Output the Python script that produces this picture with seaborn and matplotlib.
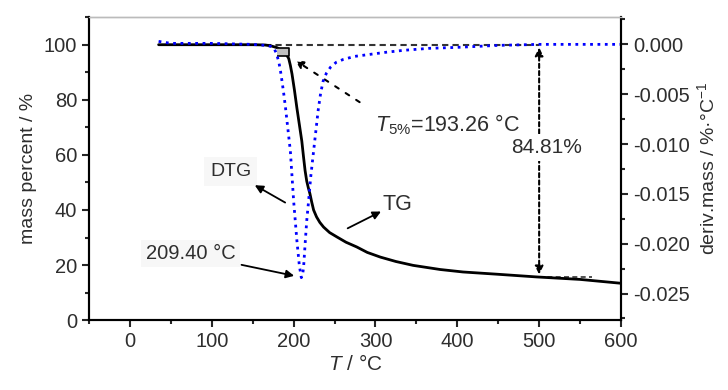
import numpy as np
import pandas as pd
import seaborn as sns
import matplotlib.pyplot as plt
from matplotlib.ticker import MultipleLocator, FormatStrFormatter

# TG curve (mass percent vs temperature)
tg_temp = [35, 100, 150, 165, 172, 180, 187, 191, 194, 196, 198, 201, 204, 207, 210,
           212, 214, 216, 218, 220, 222, 224.4, 228, 232, 236.6, 244, 253, 264, 277,
           290, 306, 325, 346, 379, 407, 448, 497, 550, 600]
tg_mass = [100, 100, 100, 99.9, 99.6, 98.9, 97.4, 96.5, 95.0, 92.5, 89.4, 83.5, 77,
           71, 65, 59.5, 54.3, 50.5, 48, 45.8, 43, 40, 37.5, 35.5, 33.8, 31.8, 30.2,
           28.3, 26.6, 24.6, 22.9, 21.3, 19.9, 18.4, 17.5, 16.7, 15.7, 14.8, 13.4]

# DTG curve (derivative mass vs temperature)
dtg_temp = [35, 50, 100, 150, 165, 172, 176, 179, 182, 184, 186, 188, 190, 193, 196,
            200, 204, 207, 209.4, 211, 212.2, 214.3, 216, 218.3, 221, 224.4, 227, 230,
            233, 236, 240, 245, 252, 261, 275, 293.5, 312, 334, 365, 400, 450, 500, 600]
dtg_val = [0.0003, 0.0001, 0.0001, 0.0, -0.0001, -0.0002, -0.0004, -0.0009, -0.0018,
           -0.0027, -0.0038, -0.0050, -0.0063, -0.0085, -0.0107, -0.0157, -0.0197,
           -0.0222, -0.0234, -0.0231, -0.0223, -0.0197, -0.0177, -0.0157, -0.0132,
           -0.0107, -0.0088, -0.0066, -0.0049, -0.0037, -0.0029, -0.0023, -0.0018,
           -0.0015, -0.0012, -0.0010, -0.0008, -0.0006, -0.0004, -0.0003, -0.0001,
           0.0, 0.0]

# annotation values
t5_x, t5_y = 187, 97.3          # T5% marker
onset_x = 165                   # start of 100 % baseline
loss_x = 500                    # temperature of mass loss reading
residual = 15.6                 # residual mass at loss_x
peak_x, peak_y = 204, 15.9      # DTG peak (left axis units)

sns.set_style('ticks')
plt.rcParams['font.family'] = ['Liberation Sans', 'DejaVu Sans']
plt.rcParams['mathtext.fontset'] = 'custom'
plt.rcParams['mathtext.rm'] = 'Liberation Sans'
plt.rcParams['mathtext.it'] = 'Liberation Sans:italic'

txt = '#2e2e2e'
fig, ax = plt.subplots(figsize=(7.28, 3.9), dpi=100)
fig.subplots_adjust(left=0.1223, right=0.853, top=0.956, bottom=0.179)

tg = pd.DataFrame({'T': tg_temp, 'mass': tg_mass})
sns.lineplot(data=tg, x='T', y='mass', ax=ax, color='black', lw=2, zorder=3)

ax2 = ax.twinx()
dtg = pd.DataFrame({'T': dtg_temp, 'dm': dtg_val})
sns.lineplot(data=dtg, x='T', y='dm', ax=ax2, color='#0000ff', lw=2, ls=':')

ax.set_xlim(-50, 600)
ax.set_ylim(0, 110)
ax2.set_ylim(-0.02767, 0.00273)

ax.set_xticks(range(0, 601, 100))
ax.xaxis.set_minor_locator(MultipleLocator(50))
ax.set_yticks(range(0, 101, 20))
ax.yaxis.set_minor_locator(MultipleLocator(10))
ax2.set_yticks([0, -0.005, -0.01, -0.015, -0.02, -0.025])
ax2.yaxis.set_minor_locator(MultipleLocator(0.0025))
ax2.yaxis.set_major_formatter(FormatStrFormatter('%.3f'))

for a in (ax, ax2):
    a.tick_params(which='major', direction='out', length=5, width=1.5,
                  labelsize=14.5, labelcolor=txt)
    a.tick_params(which='minor', direction='out', length=3, width=1.5)
    for s in ['left', 'right', 'bottom']:
        a.spines[s].set_linewidth(1.5)
        a.spines[s].set_color('black')
    a.spines['top'].set_color('#bbbbbb')
    a.spines['top'].set_linewidth(1)

ax.set_xlabel('$T$ / °C', fontsize=15, color=txt, labelpad=2)
ax.set_ylabel('mass percent / %', fontsize=14, color=txt, labelpad=5)
ax2.set_ylabel('deriv.mass / %·°C$^{-1}$', fontsize=14, color=txt, labelpad=5)

# T5% marker and guide lines
ax.plot([t5_x], [t5_y], marker=[(-1, -0.65), (1, -0.65), (1, 0.65), (-1, 0.65)],
        ms=9, mfc='#c0c0c0', mec='black', mew=1.2, ls='none', zorder=5)
ax.plot([onset_x, loss_x], [100, 100], color='#333333', lw=1.5, ls=(0, (3, 2)), zorder=2)
ax.plot([loss_x, 565], [residual, residual], color='#333333', lw=1.2, ls=(0, (3, 2)), zorder=2)

arrow = dict(arrowstyle='-|>', color='black', lw=1.3, mutation_scale=12)
ax.annotate('', xy=(loss_x, 100), xytext=(loss_x, residual),
            arrowprops=dict(arrowstyle='<|-|>', color='black', lw=1.5,
                            ls=(0, (2, 1.5)), mutation_scale=12))
ax.text(509, 62.7, '84.81%', fontsize=15, color=txt, ha='center', va='center',
        bbox=dict(facecolor='white', edgecolor='none', pad=3), zorder=6)

ax.annotate('', xy=(199, 94.9), xytext=(283.5, 78.6),
            arrowprops=dict(arrowstyle='-|>', color='black', lw=1.5,
                            ls=(0, (2, 4)), mutation_scale=12))
ax.text(299.6, 71, r'$T_{\mathrm{5\%}}$=193.26 °C', fontsize=15.5, color=txt,
        ha='left', va='center')

ax.text(123, 54, 'DTG', fontsize=14, color=txt, ha='center', va='center',
        bbox=dict(facecolor='#f7f7f7', edgecolor='none', pad=4))
ax.annotate('', xy=(149.6, 49.5), xytext=(192.6, 42.2), arrowprops=arrow)

ax.text(327, 42, 'TG', fontsize=15.5, color=txt, ha='center', va='center')
ax.annotate('', xy=(309.8, 39.9), xytext=(263, 32.9), arrowprops=arrow)

ax.text(74, 24.3, '209.40 °C', fontsize=14.5, color=txt, ha='center', va='center',
        bbox=dict(facecolor='#f7f7f7', edgecolor='none', pad=3))
ax.annotate('', xy=(peak_x, peak_y), xytext=(133, 20.3), arrowprops=arrow)

plt.savefig('out.png', dpi=100)
